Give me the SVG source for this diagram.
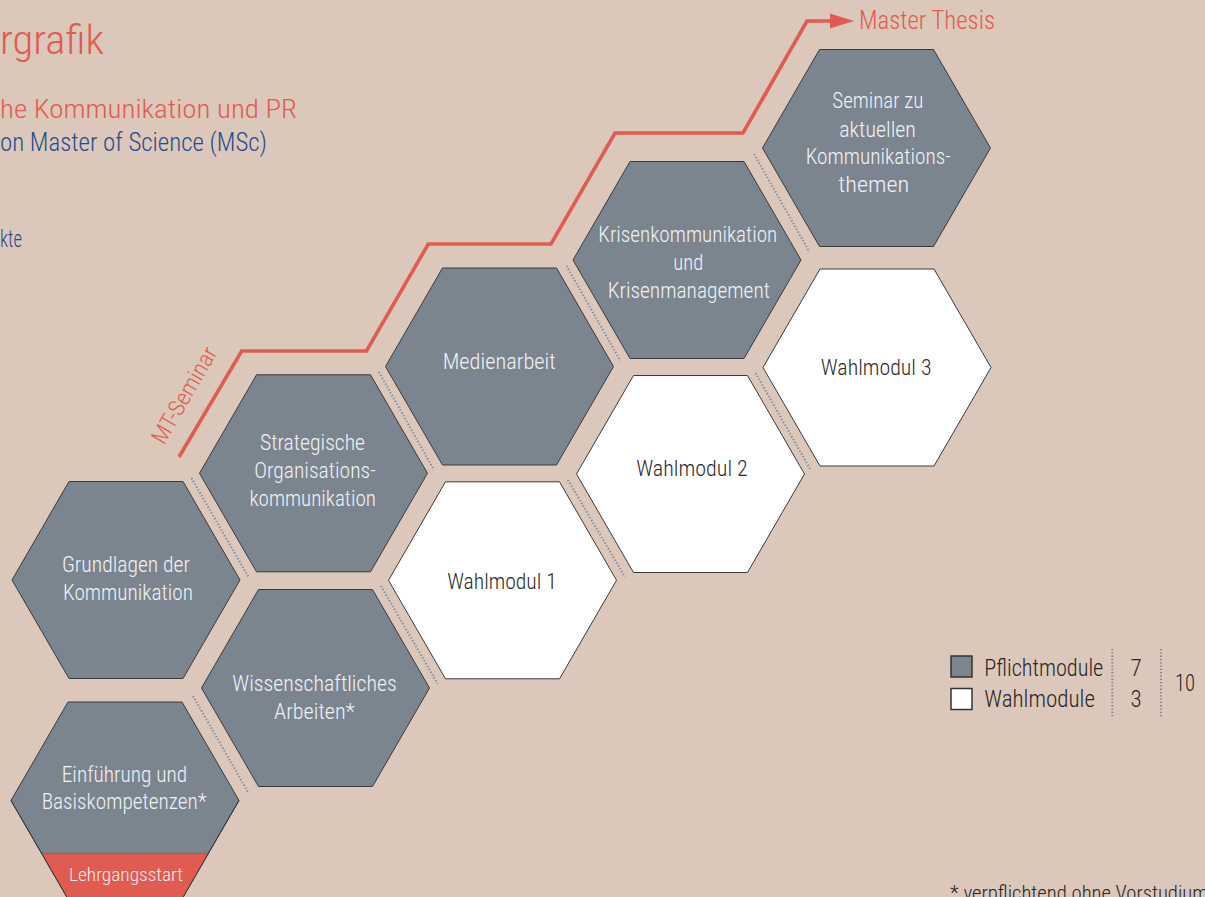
<svg xmlns="http://www.w3.org/2000/svg" xmlns:xlink="http://www.w3.org/1999/xlink" width="1205" height="897" viewBox="0 0 1205 897">
  <style>
    text { font-family: "Roboto Condensed", "Liberation Sans Narrow", "Liberation Sans", Arial, sans-serif; font-weight: 300; }
    .hx { stroke: #3a3a3a; stroke-width: 1; }
    .pf { fill: #7b8590; }
    .wm { fill: #ffffff; }
    .lt { fill: #f1f2f4; font-size: 22px; text-anchor: middle; }
    .dk { fill: #2b2b2b; font-size: 22px; text-anchor: middle; }
    .lg { fill: #262626; font-size: 23px; }
    .red { fill: #e05b50; }
    .blue { fill: #1f4e8e; }
    .dot { stroke: #7a8799; stroke-width: 2; stroke-dasharray: 1.3 2; fill: none; }
    .path { stroke: #e05b50; stroke-width: 3.6; fill: none; stroke-linejoin: miter; }
  </style>
  <defs>
    <polygon id="hex" points="-114,0 -57,-98.5 57,-98.5 114,0 57,98.5 -57,98.5"/>
    <marker id="arr" markerUnits="userSpaceOnUse" markerWidth="26" markerHeight="16" viewBox="0 0 26 16" refX="1" refY="8" orient="auto">
      <polygon points="0,0.5 24,8 0,15.5" fill="#e05b50"/>
    </marker>
  </defs>

  <rect x="0" y="0" width="1205" height="897" fill="#dcc8ba"/>

  <g id="header">
    <text x="0" y="54" font-size="40" class="red" textLength="104" lengthAdjust="spacingAndGlyphs">rgrafik</text>
    <text x="0" y="118" font-size="26" class="red" textLength="297" lengthAdjust="spacingAndGlyphs">he Kommunikation und PR</text>
    <text x="0" y="150.5" font-size="25" class="blue" textLength="267" lengthAdjust="spacingAndGlyphs">on Master of Science (MSc)</text>
    <text x="0" y="246.5" font-size="23" class="blue" textLength="22" lengthAdjust="spacingAndGlyphs">kte</text>
  </g>

  <g id="connectors">
    <line class="dot" x1="191.5" y1="478" x2="248.5" y2="577"/>
    <line class="dot" x1="193" y1="696" x2="248.5" y2="793"/>
    <line class="dot" x1="379" y1="372" x2="434" y2="470"/>
    <line class="dot" x1="381" y1="586" x2="437.5" y2="683.5"/>
    <line class="dot" x1="566.5" y1="266" x2="620.5" y2="361"/>
    <line class="dot" x1="568" y1="480" x2="625" y2="577"/>
    <line class="dot" x1="754" y1="154" x2="809.5" y2="252"/>
    <line class="dot" x1="755.5" y1="373" x2="811" y2="470.5"/>
    <path id="mt-path" class="path" d="M179,457 L241.7,351 L366.5,351 L428.3,244 L551,244 L615,133 L743,133 L807,21 L831,21" marker-end="url(#arr)"/>
    <text x="191" y="399" font-size="23" class="red" text-anchor="middle" transform="rotate(-60 191 399)" textLength="108" lengthAdjust="spacingAndGlyphs">MT-Seminar</text>
    <text x="859" y="29" font-size="26" class="red" textLength="136" lengthAdjust="spacingAndGlyphs">Master Thesis</text>
  </g>

  <g id="grundlagen">
    <use xlink:href="#hex" href="#hex" x="126" y="580" class="hx pf"/>
    <text class="lt" x="126" y="571.5" textLength="128" lengthAdjust="spacingAndGlyphs">Grundlagen der</text>
    <text class="lt" x="128" y="599.5" textLength="130" lengthAdjust="spacingAndGlyphs">Kommunikation</text>
  </g>

  <g id="einfuehrung">
    <use xlink:href="#hex" href="#hex" x="125" y="800.5" class="hx pf"/>
    <polygon points="41.6,853.3 208.4,853.3 182,899 68,899" fill="#e05b50" stroke="#8a4a44" stroke-width="0.6"/>
    <polyline points="11,800.5 68,899" fill="none" stroke="#3a3a3a" stroke-width="1"/>
    <polyline points="239,800.5 182,899" fill="none" stroke="#3a3a3a" stroke-width="1"/>
    <text class="lt" x="124.5" y="781.5" textLength="125.5" lengthAdjust="spacingAndGlyphs">Einführung und</text>
    <text class="lt" x="124.2" y="809" textLength="165" lengthAdjust="spacingAndGlyphs">Basiskompetenzen*</text>
    <text class="lt" x="126" y="880.5" style="font-size:19px" textLength="114" lengthAdjust="spacingAndGlyphs">Lehrgangsstart</text>
  </g>

  <g id="strategische">
    <use xlink:href="#hex" href="#hex" x="313.5" y="473.3" class="hx pf"/>
    <text class="lt" x="312.5" y="450" textLength="105" lengthAdjust="spacingAndGlyphs">Strategische</text>
    <text class="lt" x="315" y="478.3" textLength="121.5" lengthAdjust="spacingAndGlyphs">Organisations-</text>
    <text class="lt" x="312.7" y="505.7" textLength="126.5" lengthAdjust="spacingAndGlyphs">kommunikation</text>
  </g>

  <g id="wissenschaftliches">
    <use xlink:href="#hex" href="#hex" x="315.5" y="688" class="hx pf"/>
    <text class="lt" x="314.5" y="690.7" textLength="164.4" lengthAdjust="spacingAndGlyphs">Wissenschaftliches</text>
    <text class="lt" x="314.5" y="719" textLength="81" lengthAdjust="spacingAndGlyphs">Arbeiten*</text>
  </g>

  <g id="medienarbeit">
    <use xlink:href="#hex" href="#hex" x="499.5" y="366.5" class="hx pf"/>
    <text class="lt" x="499.2" y="369.3" textLength="113" lengthAdjust="spacingAndGlyphs">Medienarbeit</text>
  </g>

  <g id="wahlmodul1">
    <use xlink:href="#hex" href="#hex" x="502.5" y="580.3" class="hx wm"/>
    <text class="dk" x="502" y="589.3" textLength="109.5" lengthAdjust="spacingAndGlyphs">Wahlmodul 1</text>
  </g>

  <g id="krisen">
    <use xlink:href="#hex" href="#hex" x="687" y="260" class="hx pf"/>
    <text class="lt" x="687.8" y="241.7" textLength="179" lengthAdjust="spacingAndGlyphs">Krisenkommunikation</text>
    <text class="lt" x="688.3" y="270" textLength="30" lengthAdjust="spacingAndGlyphs">und</text>
    <text class="lt" x="688.8" y="297.7" textLength="162.3" lengthAdjust="spacingAndGlyphs">Krisenmanagement</text>
  </g>

  <g id="wahlmodul2">
    <use xlink:href="#hex" href="#hex" x="690.5" y="474" class="hx wm"/>
    <text class="dk" x="692" y="476" textLength="111.5" lengthAdjust="spacingAndGlyphs">Wahlmodul 2</text>
  </g>

  <g id="seminar">
    <use xlink:href="#hex" href="#hex" x="876.5" y="148" class="hx pf"/>
    <text class="lt" x="877.8" y="108.3" textLength="91" lengthAdjust="spacingAndGlyphs">Seminar zu</text>
    <text class="lt" x="877.6" y="136.7" textLength="76.7" lengthAdjust="spacingAndGlyphs">aktuellen</text>
    <text class="lt" x="878.2" y="164" textLength="145" lengthAdjust="spacingAndGlyphs">Kommunikations-</text>
    <text class="lt" x="873.8" y="191.7" textLength="71" lengthAdjust="spacingAndGlyphs">themen</text>
  </g>

  <g id="wahlmodul3">
    <use xlink:href="#hex" href="#hex" x="877" y="367.5" class="hx wm"/>
    <text class="dk" x="876.2" y="375" textLength="110.7" lengthAdjust="spacingAndGlyphs">Wahlmodul 3</text>
  </g>

  <g id="legend">
    <rect x="951" y="656" width="21" height="21" fill="#7b8590" stroke="#333" stroke-width="1.5"/>
    <rect x="951" y="688.5" width="21" height="21" fill="#ffffff" stroke="#333" stroke-width="1.5"/>
    <text class="lg" x="984.3" y="675.7" textLength="119" lengthAdjust="spacingAndGlyphs">Pflichtmodule</text>
    <text class="lg" x="984.3" y="707.3" textLength="110.7" lengthAdjust="spacingAndGlyphs">Wahlmodule</text>
    <line class="dot" x1="1112.3" y1="649" x2="1112.3" y2="717.5"/>
    <line class="dot" x1="1161" y1="649" x2="1161" y2="717.5"/>
    <text class="lg" x="1136" y="675.7" text-anchor="middle">7</text>
    <text class="lg" x="1136" y="707.3" text-anchor="middle">3</text>
    <text class="lg" x="1185" y="690.7" text-anchor="middle" textLength="20" lengthAdjust="spacingAndGlyphs">10</text>
  </g>

  <g id="footnote">
    <text x="950" y="900" font-size="21" fill="#262626" textLength="258" lengthAdjust="spacingAndGlyphs">* verpflichtend ohne Vorstudium</text>
  </g>
</svg>
